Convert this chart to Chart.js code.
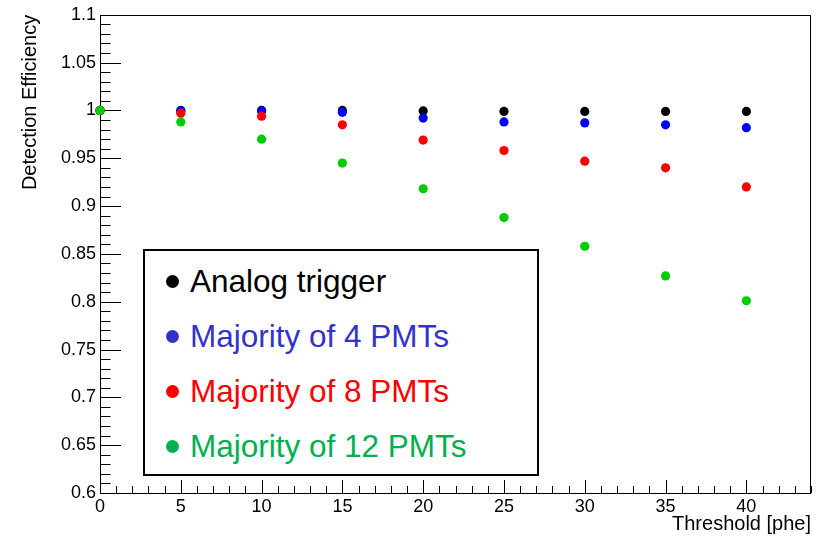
<!DOCTYPE html>
<html>
<head>
<meta charset="utf-8">
<script src="https://cdn.jsdelivr.net/npm/chart.js@4/dist/chart.umd.min.js"></script>
<style>
  html, body { margin: 0; padding: 0; background: #fff; }
  #wrap { position: relative; width: 817px; height: 540px; }
  #chart { display: block; }
  #legend {
    position: absolute; left: 143px; top: 249px; width: 392px; height: 220px;
    border: 2px solid #000; background: #fff; padding-top: 3px; box-sizing: content-box;
    font-family: "Liberation Sans", Arial, sans-serif; font-size: 31.5px;
  }
  #legend .row { height: 55px; display: flex; align-items: center; }
  #legend .dot { width: 13px; height: 13px; border-radius: 50%; margin-left: 21px; margin-right: 11px; }
</style>
</head>
<body>
<div id="wrap">
  <canvas id="chart" width="817" height="540"></canvas>
  <div id="legend"></div>
</div>
<script>
// Threshold values (phe) and detection efficiency for each trigger scheme
const thresholds = [0, 5, 10, 15, 20, 25, 30, 35, 40];
const analogTrigger = [1.000, 1.000, 1.000, 1.000, 0.9995, 0.999, 0.999, 0.999, 0.999];
const majority4  = [1.000, 0.9995, 0.9995, 0.998, 0.992, 0.988, 0.987, 0.985, 0.982];
const majority8  = [1.000, 0.997, 0.994, 0.985, 0.969, 0.958, 0.947, 0.940, 0.920];
const majority12 = [1.000, 0.988, 0.970, 0.945, 0.918, 0.888, 0.858, 0.827, 0.801];

const seriesNames = ['Analog trigger', 'Majority of 4 PMTs', 'Majority of 8 PMTs', 'Majority of 12 PMTs'];
const seriesData = [analogTrigger, majority4, majority8, majority12];

// Axis tick values
const xTickValues = [0, 5, 10, 15, 20, 25, 30, 35, 40];
const yTickValues = [0.6, 0.65, 0.7, 0.75, 0.8, 0.85, 0.9, 0.95, 1, 1.05, 1.1];

const markerColors = ['#000000', '#0000ff', '#ff0000', '#00cc00'];
const legendColors = ['#000000', '#3333cc', '#ff0000', '#00b050'];

const FONT = '"Liberation Sans", Arial, Helvetica, sans-serif';

const datasets = seriesNames.map((name, i) => ({
  label: name,
  data: thresholds.map((t, k) => ({ x: t, y: seriesData[i][k] })),
  backgroundColor: markerColors[i],
  borderColor: markerColors[i],
  borderWidth: 0,
  pointRadius: 4.6,
  pointHoverRadius: 4.6,
  showLine: false,
  clip: false,
  order: seriesNames.length - i,
  legendColor: legendColors[i]
}));

// Frame plus inward-pointing major/minor tick marks
const frameTicks = {
  id: 'frameTicks',
  beforeDatasetsDraw(chart) {
    const { ctx, chartArea: a, scales: { x, y } } = chart;
    ctx.save();
    ctx.strokeStyle = '#000';
    ctx.lineWidth = 1;
    ctx.strokeRect(Math.round(a.left) + 0.5, Math.round(a.top) + 0.5,
                   Math.round(a.right - a.left) - 1, Math.round(a.bottom - a.top));
    ctx.beginPath();
    for (let k = 0; k <= 50; k++) {
      const v = 0.6 + k * 0.01;
      const py = Math.round(y.getPixelForValue(v)) + 0.5;
      const len = (k % 5 === 0) ? 21 : 10.5;
      ctx.moveTo(a.left, py);
      ctx.lineTo(a.left + len, py);
    }
    for (let k = 0; k <= 44; k++) {
      const px = Math.round(x.getPixelForValue(k)) + 0.5;
      const len = (k % 5 === 0) ? 13 : 7;
      ctx.moveTo(px, a.bottom);
      ctx.lineTo(px, a.bottom - len);
    }
    ctx.stroke();
    ctx.restore();
  }
};

// HTML legend built from the datasets
const htmlLegend = {
  id: 'htmlLegend',
  afterUpdate(chart) {
    const box = document.getElementById('legend');
    box.innerHTML = '';
    chart.data.datasets.forEach(ds => {
      const row = document.createElement('div');
      row.className = 'row';
      const dot = document.createElement('span');
      dot.className = 'dot';
      dot.style.background = ds.legendColor;
      const txt = document.createElement('span');
      txt.textContent = ds.label;
      txt.style.color = ds.legendColor;
      row.appendChild(dot);
      row.appendChild(txt);
      box.appendChild(row);
    });
  }
};

const fmt = v => String(Number(Number(v).toFixed(2)));

new Chart(document.getElementById('chart'), {
  type: 'scatter',
  data: { datasets },
  options: {
    responsive: false,
    animation: false,
    devicePixelRatio: 1,
    layout: { padding: { top: 12, right: 6, left: 0, bottom: 0 } },
    plugins: { legend: { display: false }, tooltip: { enabled: false } },
    scales: {
      x: {
        type: 'linear', min: 0, max: 44,
        grid: { display: false, drawTicks: false },
        border: { display: false },
        afterBuildTicks: s => { s.ticks = xTickValues.map(v => ({ value: v })); },
        afterFit: s => { s.height = 47; },
        ticks: { autoSkip: false, maxRotation: 0, padding: 3, color: '#000',
                 font: { family: FONT, size: 18 }, callback: v => fmt(v) },
        title: { display: true, text: 'Threshold [phe]', align: 'end', color: '#000',
                 font: { family: FONT, size: 20 }, padding: { top: 0, bottom: 4 } }
      },
      y: {
        type: 'linear', min: 0.6, max: 1.1,
        grid: { display: false, drawTicks: false },
        border: { display: false },
        afterBuildTicks: s => { s.ticks = yTickValues.map(v => ({ value: v })); },
        afterFit: s => { s.width = 100; },
        ticks: { autoSkip: false, padding: 4, color: '#000',
                 font: { family: FONT, size: 18 }, callback: v => fmt(v) },
        title: { display: true, text: 'Detection Efficiency', align: 'end', color: '#000',
                 font: { family: FONT, size: 20 }, padding: { top: 18, bottom: 0 } }
      }
    }
  },
  plugins: [frameTicks, htmlLegend]
});
</script>
</body>
</html>
